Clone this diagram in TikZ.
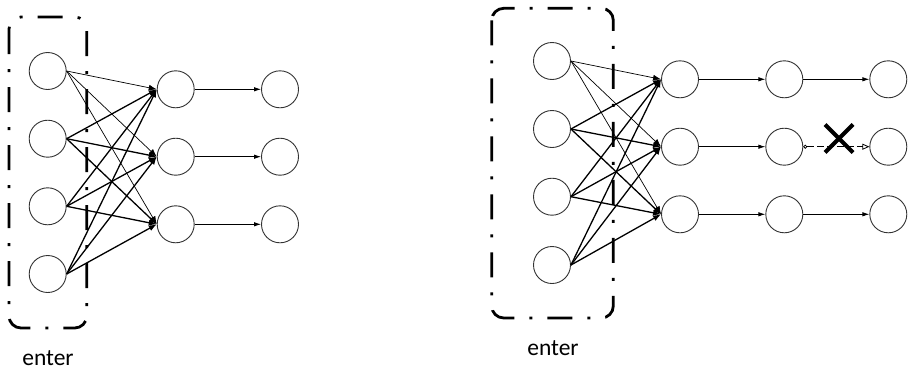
\documentclass[tikz,border=0pt]{standalone}
\usepackage{fontspec}
\setmainfont{Carlito}
\usetikzlibrary{arrows.meta}
\begin{document}
\begin{tikzpicture}[x=1pt,y=-1pt,
  neuron/.style={circle,draw=black!80,line width=0.9pt,minimum size=37pt,inner sep=0pt,fill=white},
  fan/.style={line width=1.3pt,-{Latex[length=8pt,width=6pt]}},
  thinfan/.style={line width=0.7pt,-{Latex[length=8pt,width=6pt]}},
  link/.style={line width=0.8pt,-{Latex[length=7pt,width=4.5pt]}},
  groupbox/.style={line width=2.8pt,rounded corners=12pt,dash pattern=on 25pt off 15pt on 3pt off 15pt},
  lbl/.style={font=\fontsize{23.5}{27}\selectfont,anchor=base,inner sep=0pt}]
\useasboundingbox (0,0) rectangle (909,370);

% ---- left network ----
\foreach \i/\y in {1/71,2/138.7,3/206.3,4/274}
  \node[neuron] (a\i) at (47.7,\y) {};
\foreach \j/\y in {1/89.3,2/156.7,3/224.3}{
  \node[neuron] (ah\j) at (175.7,\y) {};
  \node[neuron] (ao\j) at (280,\y) {};
}
\foreach \j in {1,2,3}{
  \draw[thinfan] (a1.east) -- (ah\j.west);
  \foreach \i in {2,3,4}
    \draw[fan] (a\i.east) -- (ah\j.west);
  \draw[link] (ah\j) -- (ao\j);
}
\draw[groupbox] (9,17) rectangle (86.7,328);
\node[lbl] (aenter) at (48,365) {enter};

% ---- right network ----
\foreach \i/\y in {1/61,2/129,3/196.7,4/265}
  \node[neuron] (b\i) at (552,\y) {};
\foreach \j/\y in {1/79.3,2/146.7,3/214.3}{
  \node[neuron] (bh\j) at (680,\y) {};
  \node[neuron] (bm\j) at (784.3,\y) {};
  \node[neuron] (bo\j) at (888.3,\y) {};
}
\foreach \j in {1,2,3}{
  \draw[thinfan] (b1.east) -- (bh\j.west);
  \foreach \i in {2,3,4}
    \draw[fan] (b\i.east) -- (bh\j.west);
  \draw[link] (bh\j) -- (bm\j);
}
\draw[link] (bm1) -- (bo1);
\draw[link] (bm3) -- (bo3);
\draw[line width=0.8pt,dash pattern=on 7pt off 3pt,
  {Circle[open,length=4pt,width=4pt]}-{Triangle[open,length=7pt,width=6pt]}]
  (bm2.east) -- (bo2.west);
\coordinate (xc) at (839,138.5);
\draw[line width=4pt] ([shift={(-14,-14)}]xc) -- ([shift={(14,14)}]xc);
\draw[line width=4pt] ([shift={(-14,14)}]xc) -- ([shift={(14,-14)}]xc);
\draw[groupbox] (491.7,8.3) rectangle (613.3,318);
\node[lbl] (benter) at (553,355) {enter};
\end{tikzpicture}
\end{document}
